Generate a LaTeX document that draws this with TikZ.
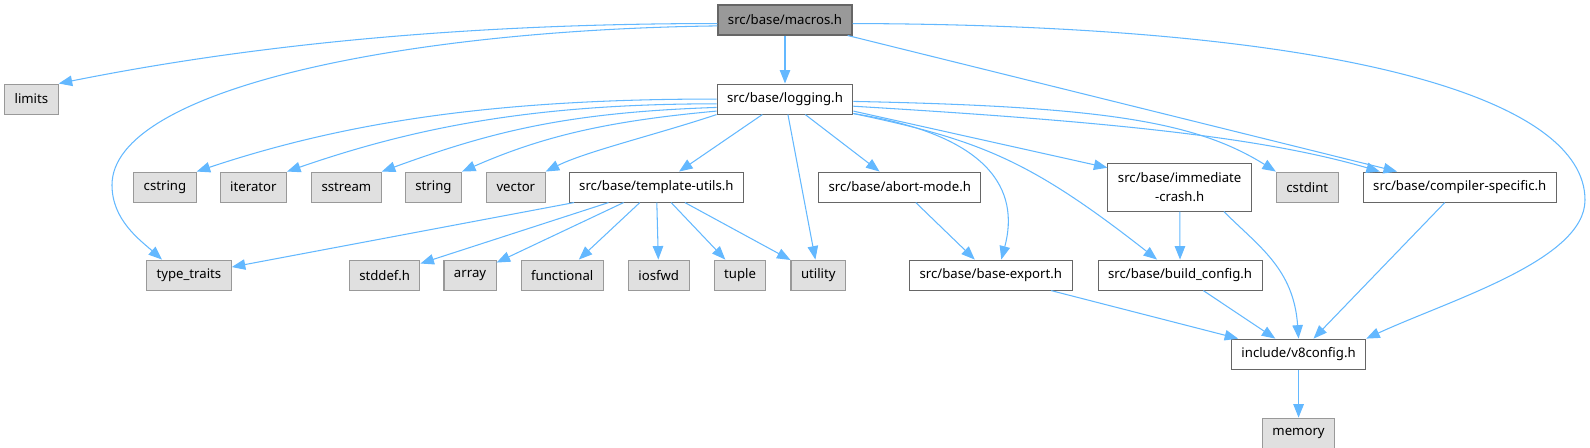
\documentclass[tikz,border=0pt]{standalone}
\usepackage{fontspec}
\setmainfont{Noto Sans}
\usepackage{tikz}
\usetikzlibrary{positioning, arrows.meta}
\definecolor{edgeblue}{HTML}{63B8FF}
\definecolor{hdrline}{HTML}{666666}
\definecolor{sysline}{HTML}{999999}
\definecolor{sysfill}{HTML}{E0E0E0}
\definecolor{curfill}{HTML}{999999}

\begin{document}
\begin{tikzpicture}[>={Triangle[length=0.27cm, width=0.21cm]}, x=0.02cm, y=-0.02cm,
  hdr/.style={draw=hdrline, fill=white, line width=0.6pt, minimum height=0.6cm, inner xsep=0.2cm, inner ysep=0pt, align=center, font=\fontsize{7.5}{10.6}\selectfont},
  sys/.style={hdr, draw=sysline, fill=sysfill},
  cur/.style={hdr, fill=curfill},
  dep/.style={->, draw=edgeblue, line width=0.6pt}]

  \useasboundingbox (0,0) rectangle (1590,448);

  % top two ranks
  \node[cur] (macros) at (785,20) {src/base/macros.h};
  \node[hdr, below=0.96cm of macros] (logging) {src/base/logging.h};
  \node[sys, left=13.16cm of logging] (limits) {limits};

  % headers included by logging.h
  \node[sys, below left=1.14cm and 10.4cm of logging] (cstring) {cstring};
  \node[sys, right=0.46cm of cstring] (iterator) {iterator};
  \node[sys, right=0.48cm of iterator] (sstream) {sstream};
  \node[sys, right=0.46cm of sstream] (string) {string};
  \node[sys, right=0.48cm of string] (vector) {vector};
  \node[hdr, right=0.46cm of vector] (tmplUtils) {src/base/template-utils.h};
  \node[hdr, right=1.48cm of tmplUtils] (abortMode) {src/base/abort-mode.h};
  \node[hdr, right=2.52cm of abortMode, minimum height=0.96cm] (immCrash) {src/base/immediate\\-crash.h};
  \node[sys, right=0.48cm of immCrash] (cstdint) {cstdint};
  \node[hdr, right=0.48cm of cstdint] (compSpec) {src/base/compiler-specific.h};

  % third rank
  \node[sys, below=1.14cm of cstring, xshift=0.48cm] (typeTraits) {type\_traits};
  \node[sys, right=2.34cm of typeTraits] (stddef) {stddef.h};
  \node[sys, right=0.46cm of stddef] (array) {array};
  \node[sys, right=0.48cm of array] (functional) {functional};
  \node[sys, right=0.48cm of functional] (iosfwd) {iosfwd};
  \node[sys, right=0.48cm of iosfwd] (tuple) {tuple};
  \node[sys, right=0.48cm of tuple] (utility) {utility};
  \node[hdr, right=1.26cm of utility] (baseExport) {src/base/base-export.h};
  \node[hdr, right=0.5cm of baseExport] (buildCfg) {src/base/build\_config.h};

  % bottom
  \node[hdr, below=0.96cm of buildCfg, xshift=2.37cm] (v8cfg) {include/v8config.h};
  \node[sys, below=0.96cm of v8cfg] (memory) {memory};

  % edges from macros.h
  \draw[dep] (macros) -- (logging);
  \draw[dep] (macros.-177) .. controls +(-300,0) and +(150,-30) .. (limits.north east);
  \draw[dep] (macros.-175) .. controls (400,30) and (112,90) .. (112,185)
    .. controls (112,220) and (140,240) .. (typeTraits.150);
  \draw[dep] (macros) -- (compSpec);
  \draw[dep] (macros.-3) .. controls (1350,25) and (1585,100) .. (1585,200)
    .. controls (1585,260) and (1450,300) .. (v8cfg.north east);

  % edges from logging.h
  \draw[dep] (logging.west) .. controls +(-220,0) and +(150,-50) .. (cstring.north east);
  \draw[dep] (logging.-176) .. controls +(-180,0) and +(130,-45) .. (iterator.north east);
  \draw[dep] (logging.-173) .. controls +(-150,5) and +(110,-40) .. (sstream.north east);
  \draw[dep] (logging.-170) .. controls +(-110,10) and +(80,-35) .. (string.north east);
  \draw[dep] (logging.south west) .. controls +(-60,20) and +(40,-20) .. (vector.north east);
  \draw[dep] (logging) -- (tmplUtils);
  \draw[dep] (logging) -- (utility);
  \draw[dep] (logging) -- (abortMode);
  \draw[dep] (logging.-12) .. controls (990,135) and (1020,190) .. (baseExport.56);
  \draw[dep] (logging.-12) .. controls (980,140) and (1030,160) .. (buildCfg.146);
  \draw[dep] (logging.-10) -- (immCrash.165);
  \draw[dep] (logging.-2) .. controls +(250,5) and +(-80,-50) .. (cstdint.north west);
  \draw[dep] (logging.-6) .. controls +(250,15) and +(-120,-35) .. (compSpec.169);

  % edges from template-utils.h
  \draw[dep] (tmplUtils) -- (typeTraits);
  \draw[dep] (tmplUtils) -- (stddef);
  \draw[dep] (tmplUtils) -- (array);
  \draw[dep] (tmplUtils) -- (functional);
  \draw[dep] (tmplUtils) -- (iosfwd);
  \draw[dep] (tmplUtils) -- (tuple);
  \draw[dep] (tmplUtils) -- (utility);

  % remaining edges
  \draw[dep] (abortMode) -- (baseExport);
  \draw[dep] (immCrash) -- (buildCfg);
  \draw[dep] (immCrash.-29) .. controls +(35,35) and +(-5,-70) .. (v8cfg.north);
  \draw[dep] (compSpec) -- (v8cfg);
  \draw[dep] (baseExport) -- (v8cfg);
  \draw[dep] (buildCfg) -- (v8cfg);
  \draw[dep] (v8cfg) -- (memory);
\end{tikzpicture}
\end{document}
